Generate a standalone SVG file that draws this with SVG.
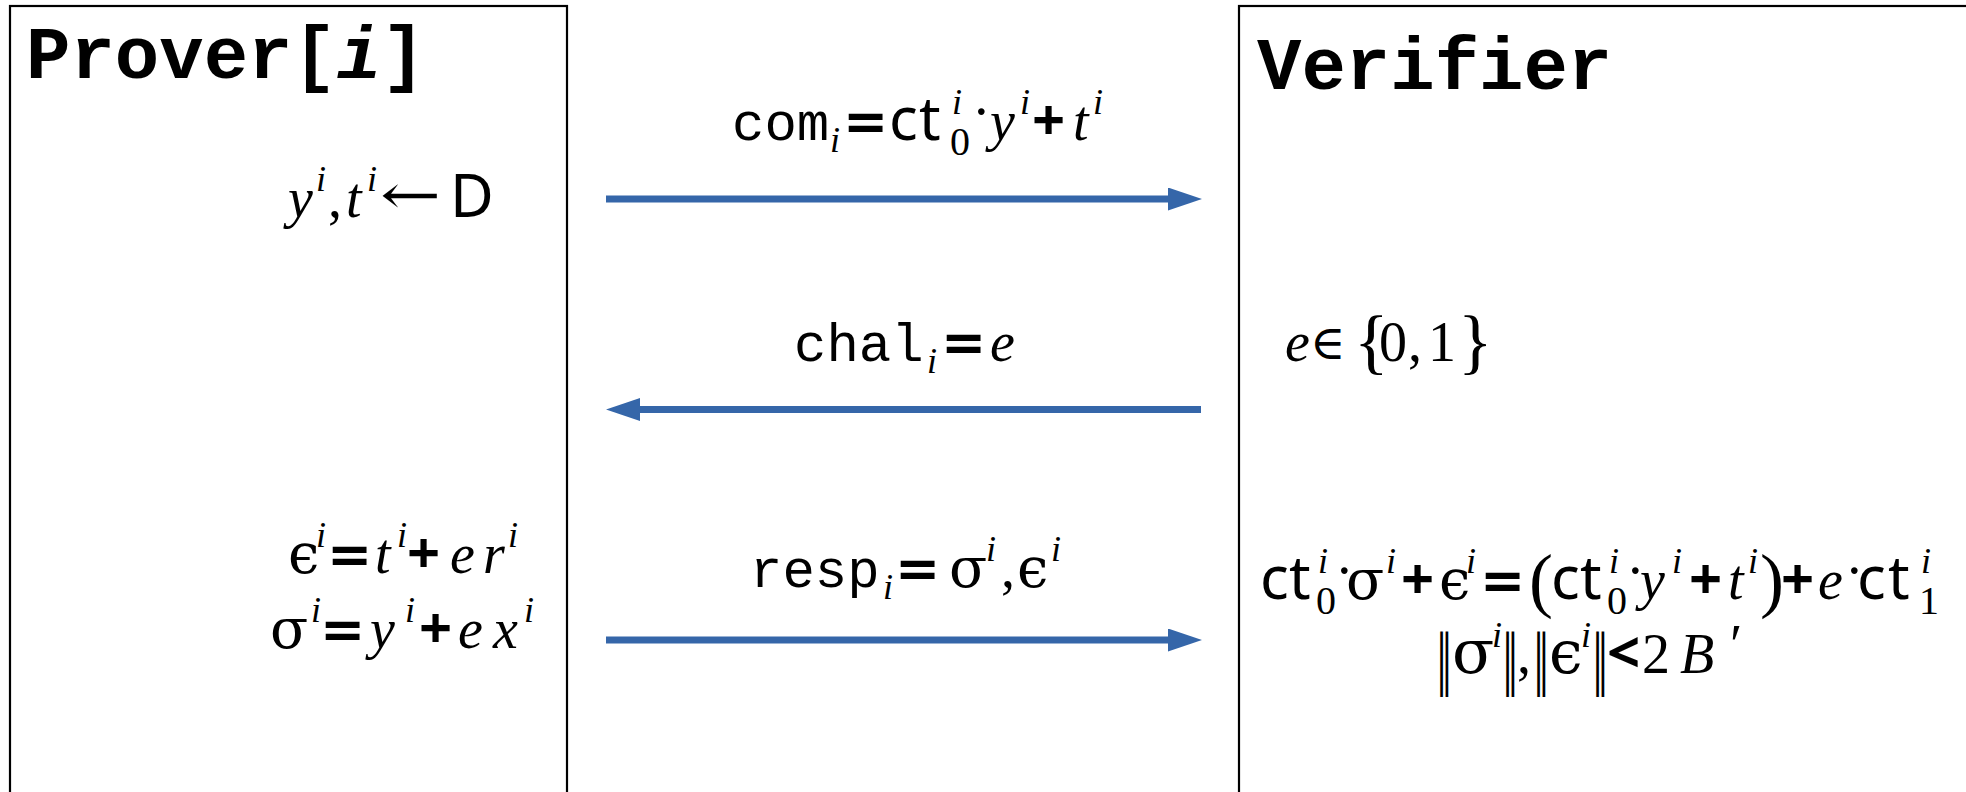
<svg xmlns="http://www.w3.org/2000/svg" width="1966" height="792" viewBox="0 0 1966 792">
  <style>
    .box { fill: #ffffff; stroke: #000000; stroke-width: 2.2; }
    .title { font-family: "Liberation Mono", "Courier New", monospace; font-weight: bold; font-size: 74px; fill: #000; }
    .m { font-family: "Liberation Serif", "DejaVu Serif", serif; font-size: 56px; fill: #000; }
    .it { font-style: italic; }
    .sup { font-family: "Liberation Serif", "DejaVu Serif", serif; font-style: italic; font-size: 36px; }
    .dig { font-family: "Liberation Serif", "DejaVu Serif", serif; font-size: 40px; font-style: normal; }
    .mono { font-family: "Liberation Mono", "Courier New", monospace; font-size: 54px; }
    .sans { font-family: "Noto Sans", "DejaVu Sans", sans-serif; font-size: 60px; font-style: normal; }
    .op { font-family: "Noto Sans", "DejaVu Sans", sans-serif; font-weight: bold; font-size: 58px; font-style: normal; }
    .eq { font-family: "DejaVu Sans", sans-serif; font-weight: bold; font-size: 54px; font-style: normal; }
    .gr { font-family: "DejaVu Serif", "Liberation Serif", serif; font-style: normal; }
    .bar { font-family: "DejaVu Serif", serif; font-size: 60px; fill: #000; }
    .larr { font-family: "DejaVu Serif", serif; font-size: 56px; fill: #000; }
    .arrow { stroke: #3566a9; stroke-width: 7; fill: none; }
  </style>
  <defs>
    <marker id="head" markerUnits="userSpaceOnUse" markerWidth="34" markerHeight="23" refX="0" refY="11.5" orient="auto">
      <path d="M0,0 L34,11.5 L0,23 Z" fill="#3566a9"/>
    </marker>
  </defs>

  <!-- Prover party -->
  <g id="prover">
    <rect class="box" x="10" y="6" width="557" height="820"/>
    <text class="title" x="26" y="78">Prover[<tspan font-style="italic">i</tspan>]</text>
    <!-- y^i, t^i sampled from D -->
    <text class="m">
      <tspan class="it" x="288" y="217">y</tspan><tspan class="sup" x="316" y="191">i</tspan><tspan x="328" y="217">,</tspan><tspan class="it" x="346" y="217">t</tspan><tspan class="sup" x="367" y="191">i</tspan><tspan class="sans" font-size="62" x="450" y="217">D</tspan>
    </text>
    <text class="larr" transform="translate(380,214) scale(1.3,1)">←</text>
    <!-- response computation -->
    <text class="m">
      <tspan class="gr" x="288" y="573">ϵ</tspan><tspan class="sup" x="316" y="547">i</tspan><tspan class="eq" x="327" y="573">=</tspan><tspan class="it" x="375" y="573">t</tspan><tspan class="sup" x="397" y="547">i</tspan><tspan class="op" x="407" y="573">+</tspan><tspan class="it" x="450" y="573">e</tspan><tspan class="it" x="483" y="573">r</tspan><tspan class="sup" x="508" y="547">i</tspan>
    </text>
    <text class="m">
      <tspan class="gr" x="270" y="648">σ</tspan><tspan class="sup" x="311" y="622">i</tspan><tspan class="eq" x="320" y="648">=</tspan><tspan class="it" x="370" y="648">y</tspan><tspan class="sup" x="405" y="622">i</tspan><tspan class="op" x="419" y="648">+</tspan><tspan class="it" x="458" y="648">e</tspan><tspan class="it" x="493" y="648">x</tspan><tspan class="sup" x="524" y="622">i</tspan>
    </text>
  </g>

  <!-- Verifier party -->
  <g id="verifier">
    <rect class="box" x="1239" y="6" width="760" height="820"/>
    <text class="title" x="1257" y="89">Verifier</text>
    <!-- challenge bit -->
    <text class="m" font-size="54">
      <tspan class="it" x="1285" y="361">e</tspan><tspan class="gr" font-size="48" x="1310" y="359">∈</tspan><tspan font-size="72" x="1354" y="365">{</tspan><tspan x="1379" y="361">0</tspan><tspan x="1408" y="361">,</tspan><tspan x="1428" y="361">1</tspan><tspan font-size="72" x="1458" y="365">}</tspan>
    </text>
    <!-- verification equation -->
    <text class="m">
      <tspan class="sans" x="1260" y="599">c</tspan><tspan class="sans" x="1289" y="599">t</tspan><tspan class="dig" x="1316" y="614">0</tspan><tspan class="sup" x="1318" y="573">i</tspan><tspan x="1335" y="590">·</tspan><tspan class="gr" x="1346" y="599">σ</tspan><tspan class="sup" x="1386" y="573">i</tspan><tspan class="op" x="1401" y="599">+</tspan><tspan class="gr" x="1439" y="599">ϵ</tspan><tspan class="sup" x="1466" y="573">i</tspan><tspan class="eq" font-size="60" x="1480" y="599">=</tspan><tspan font-size="72" x="1529" y="604">(</tspan><tspan class="sans" x="1551" y="599">c</tspan><tspan class="sans" x="1580" y="599">t</tspan><tspan class="dig" x="1607" y="614">0</tspan><tspan class="sup" x="1609" y="573">i</tspan><tspan x="1626" y="590">·</tspan><tspan class="it" x="1640" y="599">y</tspan><tspan class="sup" x="1672" y="573">i</tspan><tspan class="op" x="1689" y="599">+</tspan><tspan class="it" x="1728" y="599">t</tspan><tspan class="sup" x="1748" y="573">i</tspan><tspan font-size="72" x="1760" y="604">)</tspan><tspan class="op" x="1781" y="599">+</tspan><tspan class="it" x="1818" y="599">e</tspan><tspan x="1845" y="590">·</tspan><tspan class="sans" x="1857" y="599">c</tspan><tspan class="sans" x="1888" y="599">t</tspan><tspan class="dig" x="1919" y="614">1</tspan><tspan class="sup" x="1921" y="573">i</tspan>
    </text>
    <!-- norm bound -->
    <text class="m">
      <tspan class="gr" font-size="62" x="1452" y="673">σ</tspan><tspan class="sup" x="1492" y="647">i</tspan><tspan x="1517" y="673">,</tspan><tspan class="gr" font-size="60" x="1549" y="673">ϵ</tspan><tspan class="sup" x="1581" y="647">i</tspan><tspan class="op" x="1607" y="673">&lt;</tspan><tspan x="1642" y="673">2</tspan><tspan class="it" x="1680" y="673">B</tspan><tspan x="1730" y="664">′</tspan>
    </text>
    <text class="bar" transform="translate(1436,682) scale(0.55,1.1)">‖</text>
    <text class="bar" transform="translate(1502,682) scale(0.55,1.1)">‖</text>
    <text class="bar" transform="translate(1533,682) scale(0.55,1.1)">‖</text>
    <text class="bar" transform="translate(1592,682) scale(0.55,1.1)">‖</text>
  </g>

  <!-- Message flow between the parties -->
  <g id="messages">
    <line class="arrow" x1="606" y1="199" x2="1168" y2="199" marker-end="url(#head)"/>
    <line class="arrow" x1="1201" y1="409.5" x2="640" y2="409.5" marker-end="url(#head)"/>
    <line class="arrow" x1="606" y1="640" x2="1168" y2="640" marker-end="url(#head)"/>

    <text class="m">
      <tspan class="mono" x="732" y="140">com</tspan><tspan class="sup" x="830" y="152">i</tspan><tspan class="eq" x="843" y="140">=</tspan><tspan class="sans" x="889" y="140">c</tspan><tspan class="sans" x="919" y="140">t</tspan><tspan class="dig" x="950" y="155">0</tspan><tspan class="sup" x="952" y="114">i</tspan><tspan x="972" y="131">·</tspan><tspan class="it" x="990" y="140">y</tspan><tspan class="sup" x="1020" y="114">i</tspan><tspan class="op" x="1032" y="140">+</tspan><tspan class="it" x="1073" y="140">t</tspan><tspan class="sup" x="1093" y="114">i</tspan>
    </text>
    <text class="m">
      <tspan class="mono" x="794" y="361">chal</tspan><tspan class="sup" x="927" y="373">i</tspan><tspan class="eq" x="941" y="361">=</tspan><tspan class="it" x="990" y="361">e</tspan>
    </text>
    <text class="m">
      <tspan class="mono" x="750" y="587">resp</tspan><tspan class="sup" x="883" y="599">i</tspan><tspan class="eq" x="895" y="587">=</tspan><tspan class="gr" x="949" y="587">σ</tspan><tspan class="sup" x="986" y="561">i</tspan><tspan x="1001" y="587">,</tspan><tspan class="gr" x="1017" y="587">ϵ</tspan><tspan class="sup" x="1051" y="561">i</tspan>
    </text>
  </g>
</svg>
